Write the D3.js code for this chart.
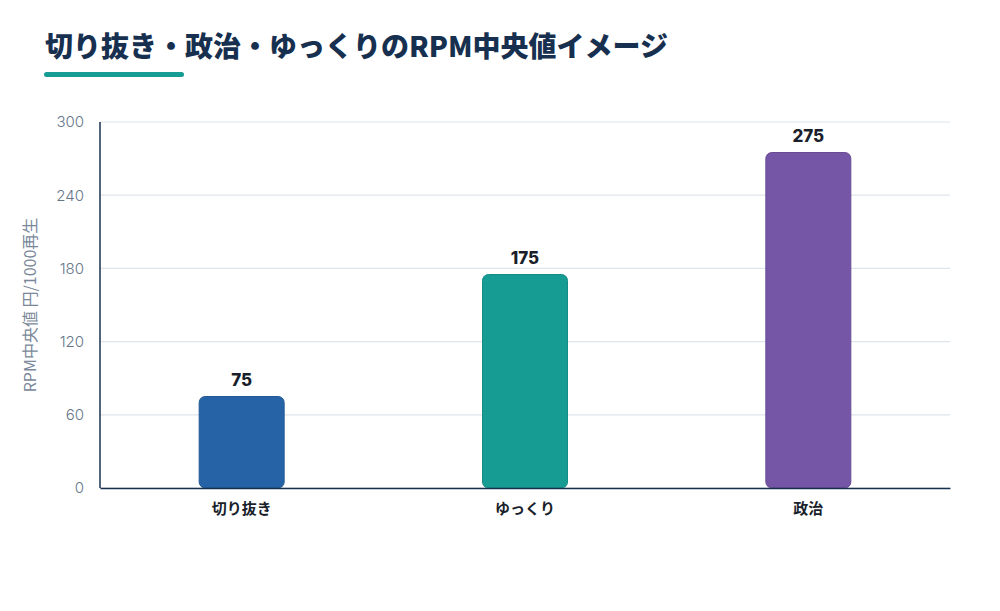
<!DOCTYPE html>
<html>
<head>
<meta charset="utf-8">
<script src="https://cdn.jsdelivr.net/npm/d3@7"></script>
<style>
  body { margin: 0; background: #fff; }
  svg { display: block; font-family: "Noto Sans CJK JP", "Noto Sans", sans-serif; }
</style>
</head>
<body>
<div id="chart"></div>
<script>
'use strict';

var categories = ['切り抜き', 'ゆっくり', '政治'];
var rpmValues = [75, 175, 275];
var barColors = ['#2663a6', '#179c94', '#7555a6'];
var yTicks = [0, 60, 120, 180, 240, 300];

var W = 1000, H = 611;
var margin = { top: 122, right: 50, bottom: 123, left: 100 };
var numFont = 'Inter, "Liberation Sans", sans-serif';

var svg = d3.select('#chart').append('svg')
    .attr('width', W)
    .attr('height', H);

// title + underline
svg.append('text')
    .attr('x', 45)
    .attr('y', 57)
    .attr('font-size', 28)
    .attr('font-weight', 900)
    .attr('fill', '#17304f')
    .text('切り抜き・政治・ゆっくりのRPM中央値イメージ');

svg.append('rect')
    .attr('x', 44)
    .attr('y', 72)
    .attr('width', 140)
    .attr('height', 5)
    .attr('rx', 2.5)
    .attr('fill', '#179c94');

var x = d3.scaleBand()
    .domain(categories)
    .range([margin.left, W - margin.right])
    .paddingInner(0.7)
    .paddingOuter(0.35);

var y = d3.scaleLinear()
    .domain([0, 300])
    .range([H - margin.bottom, margin.top]);

// gridlines
svg.append('g')
    .selectAll('line')
    .data(yTicks)
    .enter()
    .append('line')
    .attr('x1', margin.left)
    .attr('x2', W - margin.right)
    .attr('y1', function (d) { return y(d); })
    .attr('y2', function (d) { return y(d); })
    .attr('stroke', '#dfe5ec')
    .attr('stroke-width', 1.2);

// y tick labels
var yAxis = svg.append('g')
    .attr('transform', 'translate(' + margin.left + ',0)')
    .call(d3.axisLeft(y).tickValues(yTicks).tickSize(0).tickPadding(16));
yAxis.select('.domain').remove();
yAxis.selectAll('text')
    .attr('font-size', 15)
    .attr('font-weight', 300)
    .attr('fill', '#66768a')
    .attr('font-family', numFont);

// y axis title
svg.append('text')
    .attr('transform', 'translate(36,' + ((margin.top + H - margin.bottom) / 2) + ') rotate(-90)')
    .attr('text-anchor', 'middle')
    .attr('font-size', 16)
    .attr('font-weight', 400)
    .attr('fill', '#7a889a')
    .text('RPM中央値 円/1000再生');

// bars
svg.append('g')
    .selectAll('rect')
    .data(rpmValues)
    .enter()
    .append('rect')
    .attr('x', function (d, i) { return x(categories[i]); })
    .attr('y', function (d) { return y(d); })
    .attr('width', x.bandwidth())
    .attr('height', function (d) { return y(0) - y(d); })
    .attr('rx', 6)
    .attr('fill', function (d, i) { return barColors[i]; })
    .attr('stroke', function (d, i) { return d3.color(barColors[i]).darker(0.3); })
    .attr('stroke-width', 1);

// value labels
svg.append('g')
    .selectAll('text')
    .data(rpmValues)
    .enter()
    .append('text')
    .attr('x', function (d, i) { return x(categories[i]) + x.bandwidth() / 2; })
    .attr('y', function (d) { return y(d) - 11; })
    .attr('text-anchor', 'middle')
    .attr('font-size', 17)
    .attr('font-weight', 800)
    .attr('fill', '#1a1f2b')
    .attr('font-family', numFont)
    .text(function (d) { return d; });

// axes lines
svg.append('line')
    .attr('x1', margin.left)
    .attr('x2', margin.left)
    .attr('y1', margin.top)
    .attr('y2', y(0))
    .attr('stroke', '#17304f')
    .attr('stroke-width', 1.5);

var xAxis = svg.append('g')
    .attr('transform', 'translate(0,' + y(0) + ')')
    .call(d3.axisBottom(x).tickSize(0).tickPadding(15));
xAxis.select('.domain')
    .attr('stroke', '#17304f')
    .attr('stroke-width', 1.5);
xAxis.selectAll('text')
    .attr('font-size', 15)
    .attr('font-weight', 700)
    .attr('fill', '#1a1f2b')
    .attr('font-family', '"Noto Sans CJK JP", sans-serif');
</script>
</body>
</html>
